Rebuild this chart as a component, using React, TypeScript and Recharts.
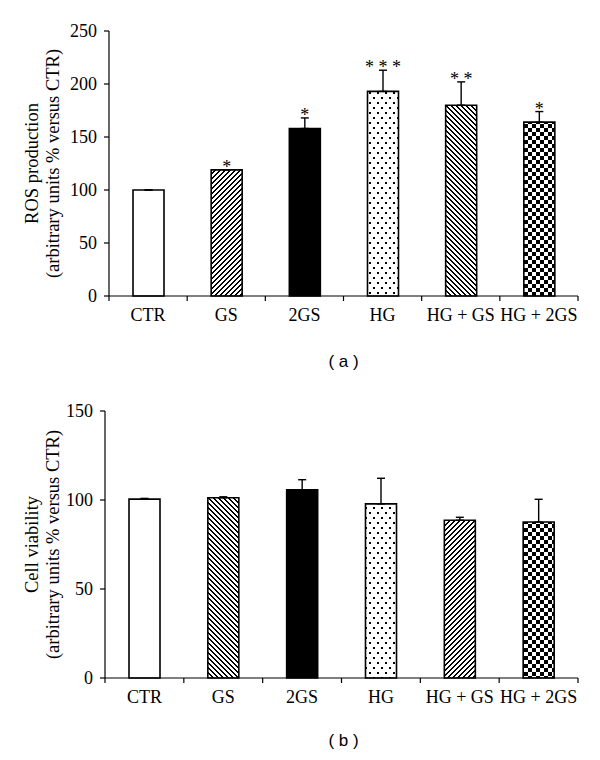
import { BarChart, Bar, XAxis, YAxis, Cell, ErrorBar, LabelList } from 'recharts'

const categories = ['CTR', 'GS', '2GS', 'HG', 'HG + GS', 'HG + 2GS']

// (a) ROS production
const rosMean = [100, 119, 158, 193, 180, 164]
const rosErr = [0, 0, 10, 20, 22, 10]
const rosSig = ['', '*', '*', '* * *', '* *', '*']
const rosTicks = [0, 50, 100, 150, 200, 250]

// (b) cell viability
const viaMean = [100.5, 101.3, 105.8, 97.8, 88.6, 87.6]
const viaErr = [0.4, 0.5, 5.6, 14.4, 1.7, 12.8]
const viaTicks = [0, 50, 100, 150]

const rosFills = ['#fff', 'url(#hatchUp)', '#000', 'url(#dots)', 'url(#hatchDown)', 'url(#checker)']
const viaFills = ['#fff', 'url(#hatchDown)', '#000', 'url(#dots)', 'url(#hatchUp)', 'url(#checker)']

const SERIF = '"Liberation Serif", "Times New Roman", serif'
const W = 600
const H = 340
const RIGHT = 22
const STEP = 5

const rosData = categories.map((name, i) => ({ name, value: rosMean[i], err: [0, rosErr[i]], sig: rosSig[i] }))
const viaData = categories.map((name, i) => ({ name, value: viaMean[i], err: [0, viaErr[i]], sig: '' }))

// pixel staircase hatching, like the bitmap fills of the original
function hatchPixels(up: boolean) {
  const px = []
  for (let r = 0; r < STEP; r++) {
    const c = up ? STEP - 1 - r : r
    px.push(<rect key={`a${r}`} x={c} y={r} width={1} height={1} fill="#000" />)
    px.push(<rect key={`b${r}`} x={(c + 1) % STEP} y={r} width={1} height={1} fill="#000" />)
  }
  return px
}

function Patterns() {
  return (
    <svg width={0} height={0} style={{ position: 'absolute' }}>
      <defs>
        <pattern id="hatchUp" patternUnits="userSpaceOnUse" width={STEP} height={STEP}>
          <rect width={STEP} height={STEP} fill="#fff" />
          {hatchPixels(true)}
        </pattern>
        <pattern id="hatchDown" patternUnits="userSpaceOnUse" width={STEP} height={STEP}>
          <rect width={STEP} height={STEP} fill="#fff" />
          {hatchPixels(false)}
        </pattern>
        <pattern id="dots" patternUnits="userSpaceOnUse" width={8} height={10}>
          <rect width={8} height={10} fill="#fff" />
          <rect x={1} y={2} width={2} height={2} fill="#000" />
          <rect x={5} y={7} width={2} height={2} fill="#000" />
        </pattern>
        <pattern id="checker" patternUnits="userSpaceOnUse" width={8} height={8}>
          <rect width={8} height={8} fill="#fff" />
          <rect x={0} y={0} width={4} height={4} fill="#000" />
          <rect x={4} y={4} width={4} height={4} fill="#000" />
        </pattern>
      </defs>
    </svg>
  )
}

function makeTick(bw: number, count: number) {
  return (props: any) => {
    const { x, y, payload } = props
    const axisY = y - 5
    const idx = payload?.index ?? 0
    return (
      <g>
        <line x1={x - bw / 2} y1={axisY} x2={x - bw / 2} y2={axisY + 5} stroke="#000" strokeWidth={1.2} />
        {idx === count - 1 && (
          <line x1={x + bw / 2} y1={axisY} x2={x + bw / 2} y2={axisY + 5} stroke="#000" strokeWidth={1.2} />
        )}
        <text x={x} y={axisY + 25} textAnchor="middle" fontSize={18} fontFamily={SERIF} fill="#000">
          {payload.value}
        </text>
      </g>
    )
  }
}

function makeTitle(line1: string, line2: string) {
  return (props: any) => {
    const vb = props.viewBox
    const cy = vb.y + vb.height / 2
    return (
      <g fontFamily={SERIF} fontSize={18.5} fill="#000">
        <text x={32} y={cy} dy="0.35em" textAnchor="middle" transform={`rotate(-90, 32, ${cy})`}>{line1}</text>
        <text x={53} y={cy} dy="0.35em" textAnchor="middle" transform={`rotate(-90, 53, ${cy})`}>{line2}</text>
      </g>
    )
  }
}

function makeStar(means: number[], errs: number[]) {
  return (props: any) => {
    if (!props.value) return null
    const vb = props.viewBox ?? props
    const { x, y, width, height } = vb
    const i = props.index ?? 0
    const top = y - errs[i] * (height / means[i])
    return (
      <text x={x + width / 2} y={top + 3} textAnchor="middle" fontSize={18} fontFamily={SERIF} fill="#000">
        {props.value}
      </text>
    )
  }
}

function Panel(props: {
  data: any[]
  fills: string[]
  ticks: number[]
  yWidth: number
  bottom: number
  line1: string
  line2: string
  means: number[]
  errs: number[]
}) {
  const { data, fills, ticks, yWidth, bottom, line1, line2, means, errs } = props
  const bw = (W - RIGHT - yWidth) / categories.length
  return (
    <BarChart width={W} height={H} data={data} margin={{ top: 31, right: RIGHT, left: 0, bottom }} barSize={31}>
      <XAxis
        dataKey="name"
        height={30}
        interval={0}
        tickSize={5}
        tickMargin={0}
        tickLine={false}
        axisLine={{ stroke: '#000', strokeWidth: 1.2 }}
        tick={makeTick(bw, categories.length)}
      />
      <YAxis
        width={yWidth}
        domain={[ticks[0], ticks[ticks.length - 1]]}
        ticks={ticks}
        interval={0}
        tickSize={5}
        tickMargin={7}
        axisLine={{ stroke: '#000', strokeWidth: 1.2 }}
        tickLine={{ stroke: '#000', strokeWidth: 1.2 }}
        tick={{ fontSize: 18, fontFamily: SERIF, fill: '#000' }}
        label={{ content: makeTitle(line1, line2) }}
      />
      <Bar dataKey="value" stroke="#000" strokeWidth={1.6} isAnimationActive={false}>
        {data.map((_, i) => (
          <Cell key={`cell-${i}`} fill={fills[i]} />
        ))}
        <ErrorBar dataKey="err" direction="y" width={4} stroke="#000" strokeWidth={1.4} />
        <LabelList dataKey="sig" content={makeStar(means, errs)} />
      </Bar>
    </BarChart>
  )
}

const captionStyle: React.CSSProperties = {
  position: 'absolute',
  left: 109,
  width: W - RIGHT - 109,
  textAlign: 'center',
  fontFamily: '"Liberation Sans", Arial, sans-serif',
  fontSize: 17,
  lineHeight: '20px',
}

export default function App() {
  return (
    <div style={{ position: 'absolute', left: 0, top: 0, width: 600, height: 760, background: '#fff' }}>
      <Patterns />
      <div style={{ position: 'absolute', left: 0, top: 0 }}>
        <Panel
          data={rosData}
          fills={rosFills}
          ticks={rosTicks}
          yWidth={109}
          bottom={14}
          line1="ROS production"
          line2="(arbitrary units % versus CTR)"
          means={rosMean}
          errs={rosErr}
        />
      </div>
      <div style={{ ...captionStyle, top: 352 }}>( a )</div>
      <div style={{ position: 'absolute', left: 0, top: 380 }}>
        <Panel
          data={viaData}
          fills={viaFills}
          ticks={viaTicks}
          yWidth={105}
          bottom={12}
          line1="Cell viability"
          line2="(arbitrary units % versus CTR)"
          means={viaMean}
          errs={viaErr}
        />
      </div>
      <div style={{ ...captionStyle, top: 731 }}>( b )</div>
    </div>
  )
}
